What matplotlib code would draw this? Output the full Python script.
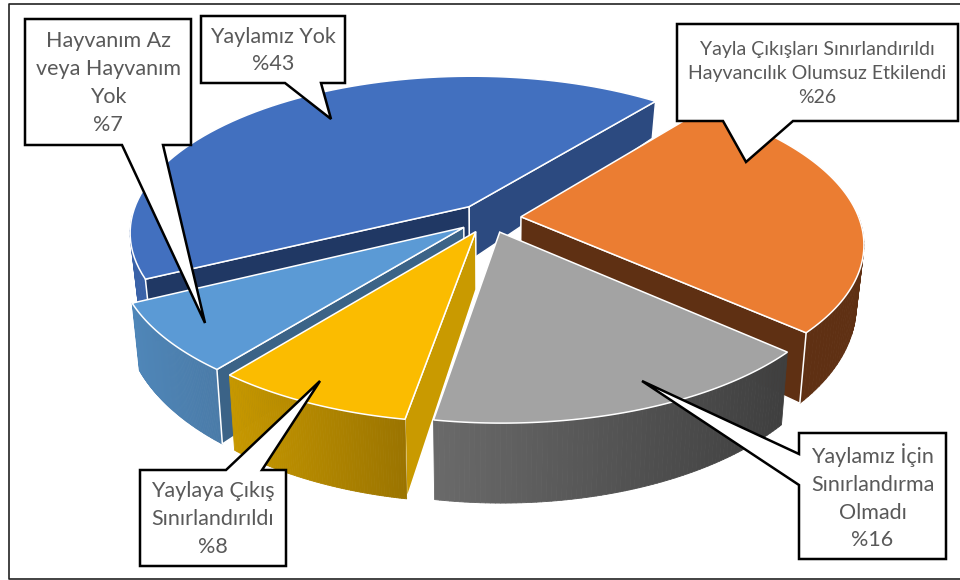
import numpy as np
import matplotlib
matplotlib.use("Agg")
import matplotlib.pyplot as plt
from matplotlib.patches import Polygon
from matplotlib.collections import PolyCollection
from matplotlib.colors import to_rgb

# Datos
etiquetas = ["Yaylamız Yok",
             "Yayla Çıkışları Sınırlandırıldı\nHayvancılık Olumsuz Etkilendi",
             "Yaylamız İçin\nSınırlandırma\nOlmadı",
             "Yaylaya Çıkış\nSınırlandırıldı",
             "Hayvanım Az\nveya Hayvanım\nYok"]
valores = [43, 26, 16, 8, 7]

# Colores: tapa, pared recta, degradado de la pared exterior
c_tapa = ["#4270BF", "#EB7D32", "#A3A3A3", "#FBBC00", "#5B9AD5"]
c_recta = ["#203864", "#5F3013", "#3F3F3F", "#C99A00", "#3B6387"]
c_pared_atras = "#2C4A80"
c_ext = [("#3A62A8", "#3A62A8"), ("#5F3013", "#5F3013"), ("#6A6A6A", "#3F3F3F"),
         ("#C79800", "#9B7400"), ("#4F86B8", "#4A7BA8")]

# Geometria del pie
cx, cy = 489, 218
rx, ry = 338, 155
persp = 0.162
expl = 0.095
ang0 = 206.4

# Cajas de texto: x0, x1, y0, y1 y la punta
cajas = {
    0: dict(caja=(201, 345, 16, 83), cola=[(321, 83), (331, 119), (285, 83)], fs=15.5),
    1: dict(caja=(677, 958, 24, 121), cola=[(793, 121), (746, 162), (723, 121)], fs=14),
    2: dict(caja=(799, 946, 433, 559), cola=[(799, 485), (642, 381), (799, 454)], fs=15.5),
    3: dict(caja=(140, 286, 470, 566), cola=[(226, 470), (320, 381), (262, 470)], fs=15.5),
    4: dict(caja=(25, 191, 19, 145), cola=[(163, 145), (205, 323), (122, 145)], fs=15.5),
}


def arriba(u, v):
    p = 1 / (1 + persp * v)
    return cx + rx * u * p, cy - ry * v * p


def abajo(u, v):
    x, y = arriba(u, v)
    return cx + (x - cx) * 0.98, y + 56 - 22 * v


def porcion(i):
    # angulos de la porcion, sentido horario desde ang0
    a1 = ang0 - sum(valores[:i]) * 3.6
    a2 = a1 - valores[i] * 3.6
    m = np.radians((a1 + a2) / 2)
    ou, ov = expl * np.cos(m), expl * np.sin(m)
    th = np.radians(np.linspace(a1, a2, 80))
    return ou, ov, ou + np.cos(th), ov + np.sin(th)


def pared_recta(ax, i, extremo, z, color=None):
    ou, ov, u, v = porcion(i)
    k = 0 if extremo == "ini" else -1
    pts = [arriba(ou, ov), arriba(u[k], v[k]), abajo(u[k], v[k]), abajo(ou, ov)]
    ax.add_patch(Polygon(pts, fc=color or c_recta[i], ec="white", lw=1.1, zorder=z))


def pared_exterior(ax, i, z):
    ou, ov, u, v = porcion(i)
    caras, cols = [], []
    c1, c2 = np.array(to_rgb(c_ext[i][0])), np.array(to_rgb(c_ext[i][1]))
    xs = np.array([arriba(a, b)[0] for a, b in zip(u, v)])
    xmin, xmax = xs.min(), xs.max()
    for k in range(len(u) - 1):
        if v[k] > 0 and v[k + 1] > 0:
            continue
        caras.append([arriba(u[k], v[k]), arriba(u[k + 1], v[k + 1]),
                      abajo(u[k + 1], v[k + 1]), abajo(u[k], v[k])])
        t = (xs[k] - xmin) / (xmax - xmin)
        cols.append(c1 + (c2 - c1) * t)
    ax.add_collection(PolyCollection(caras, facecolors=cols, edgecolors=cols, lw=0.6, zorder=z))


def tapa(ax, i, z):
    ou, ov, u, v = porcion(i)
    pts = [arriba(ou, ov)] + [arriba(a, b) for a, b in zip(u, v)]
    ax.add_patch(Polygon(pts, fc=c_tapa[i], ec="white", lw=1.1, joinstyle="miter", zorder=z))


fig = plt.figure(figsize=(9.6, 5.8), dpi=100)
ax = fig.add_axes([0, 0, 1, 1])
ax.set_xlim(0, 960)
ax.set_ylim(580, 0)
ax.axis("off")

# Marco
ax.plot([960, 9, 9, 960], [4, 4, 579, 579], color="#222222", lw=1.2, zorder=1)

# De atras hacia adelante
pared_recta(ax, 0, "fin", 2, c_pared_atras)
pared_exterior(ax, 0, 2)
pared_recta(ax, 0, "ini", 3)
tapa(ax, 0, 4)

pared_exterior(ax, 1, 5)
pared_recta(ax, 1, "fin", 5)
tapa(ax, 1, 6)

pared_exterior(ax, 4, 7)
pared_recta(ax, 4, "ini", 7)
tapa(ax, 4, 8)

pared_recta(ax, 3, "ini", 9)
pared_exterior(ax, 3, 9)
tapa(ax, 3, 10)

pared_exterior(ax, 2, 11)
tapa(ax, 2, 12)

# Etiquetas
for i, c in cajas.items():
    x0, x1, y0, y1 = c["caja"]
    cola = c["cola"]
    # se inserta la cola en el lado donde esta su base
    if cola[0][1] == y0:
        pts = [(x0, y0)] + cola + [(x1, y0), (x1, y1), (x0, y1)]
    elif cola[0][1] == y1:
        pts = [(x0, y0), (x1, y0), (x1, y1)] + cola + [(x0, y1)]
    else:
        pts = [(x0, y0), (x1, y0), (x1, y1), (x0, y1)] + cola
    ax.add_patch(Polygon(pts, fc="white", ec="black", lw=1.8, joinstyle="miter", zorder=20))
    ax.text((x0 + x1) / 2, (y0 + y1) / 2 + 1, etiquetas[i] + "\n%" + str(valores[i]),
            ha="center", va="center", family="Lato", fontsize=c["fs"], color="#595959",
            linespacing=1.48, zorder=21)

fig.savefig("out.png", dpi=100)
